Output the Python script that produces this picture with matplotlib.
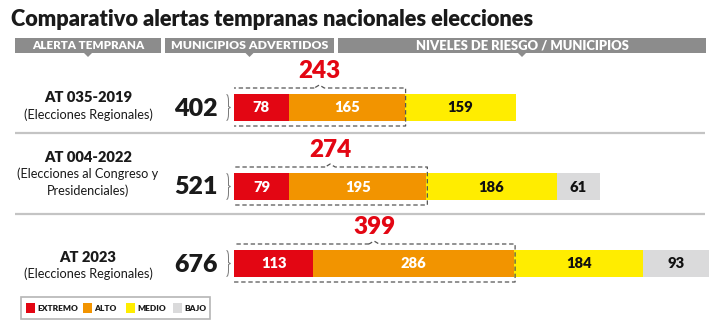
import matplotlib
matplotlib.use("Agg")
import matplotlib.pyplot as plt
from matplotlib.patches import Rectangle, Polygon, PathPatch
from matplotlib.path import Path
from matplotlib import font_manager as fm

plt.rcParams['font.family'] = ['Lato', 'DejaVu Sans']


def font_path(fname):
    for f in fm.fontManager.ttflist:
        if f.fname.split('/')[-1] == fname:
            return f.fname
    return None


_bold = font_path('Lato-Bold.ttf')
_xbold = font_path('Lato-ExtraBold.ttf') or font_path('Lato-Heavy.ttf') or _bold
_reg = font_path('Lato-Regular.ttf')


def FP(kind, size):
    p = {'bold': _bold, 'xbold': _xbold, 'reg': _reg}[kind]
    if p:
        return fm.FontProperties(fname=p, size=size)
    return fm.FontProperties(family='DejaVu Sans',
                             weight='normal' if kind == 'reg' else 'bold',
                             size=size)

# ---------------- data ----------------
alert_names = ["AT 035-2019", "AT 004-2022", "AT 2023"]
alert_subs = [["(Elecciones Regionales)"],
              ["(Elecciones al Congreso y", "Presidenciales)"],
              ["(Elecciones Regionales)"]]
totals = [402, 521, 676]
levels = ["EXTREMO", "ALTO", "MEDIO", "BAJO"]
extremo = [78, 79, 113]
alto = [165, 195, 286]
medio = [159, 186, 184]
bajo = [0, 61, 93]
level_colors = ["#e30613", "#f29400", "#ffed00", "#dadadb"]
label_colors = ["white", "white", "#111111", "#111111"]
headers = ["ALERTA TEMPRANA", "MUNICIPIOS ADVERTIDOS", "NIVELES DE RIESGO / MUNICIPIOS"]
title = "Comparativo alertas tempranas nacionales elecciones"

# layout (pixels)
W, H = 710, 324
row_y = [107.5, 186.5, 263.5]
bar_h = 27
bar_x0 = 234
px_per_unit = 0.702

fig = plt.figure(figsize=(W / 100, H / 100), dpi=100)
ov = fig.add_axes([0, 0, 1, 1])
ov.set_xlim(0, W)
ov.set_ylim(H, 0)
ov.axis("off")

bx = fig.add_axes([bar_x0 / W, 0, 1 - bar_x0 / W, 1])
bx.set_xlim(0, (W - bar_x0) / px_per_unit)
bx.set_ylim(H, 0)
bx.axis("off")

# title
ov.text(11, 20, title, fontproperties=FP('xbold', 15.7), color="#1a1a1a",
        ha="left", va="center")

# header bands
hdr_spans = [(15, 161), (165, 334), (338, 706)]
hdr_size = [8.4, 8.8, 9.4]
hcol = "#8c8c8c"
for (x0, x1), h, fs in zip(hdr_spans, headers, hdr_size):
    ov.add_patch(Rectangle((x0, 38), x1 - x0, 15, color=hcol, lw=0))
    cx = (x0 + x1) / 2
    ov.add_patch(Polygon([[cx - 4, 53], [cx + 4, 53], [cx, 57]], closed=True,
                         color=hcol, lw=0))
    ov.text(cx, 45.8, h, fontproperties=FP('xbold', fs), color="white",
            ha="center", va="center")

# separators
for y in [133, 214]:
    ov.plot([15, 705], [y, y], color="#c4c4c4", lw=1.6, solid_capstyle="butt")

# row labels and totals
name_y = [98, 157, 257]
for i in range(3):
    ov.text(88, name_y[i], alert_names[i], fontproperties=FP('xbold', 10.6),
            color="#1a1a1a", ha="center", va="center")
    for j, s in enumerate(alert_subs[i]):
        ov.text(88, name_y[i] + 17 + 17 * j, s, fontproperties=FP('reg', 9.2),
                color="#1a1a1a", ha="center", va="center")
    ov.text(218, row_y[i] + 1, str(totals[i]), fontproperties=FP('xbold', 18),
            color="#1a1a1a", ha="right", va="center")
    # brace
    yc = row_y[i]
    verts = [(226.5, yc - 13), (228.5, yc - 13), (228.5, yc - 6), (228.5, yc - 1),
             (230.5, yc), (228.5, yc + 1), (228.5, yc + 6), (228.5, yc + 13),
             (226.5, yc + 13)]
    codes = [Path.MOVETO, Path.CURVE3, Path.CURVE3, Path.LINETO,
             Path.LINETO, Path.LINETO, Path.LINETO, Path.CURVE3, Path.CURVE3]
    ov.add_patch(PathPatch(Path(verts, codes), fill=False, ec="#777777", lw=0.7))

# bars
series = [extremo, alto, medio, bajo]
for i in range(3):
    left = 0
    for k, vals in enumerate(series):
        v = vals[i]
        if v <= 0:
            continue
        bx.barh(row_y[i], v, left=left, height=bar_h, color=level_colors[k],
                lw=0)
        bx.text(left + v / 2, row_y[i] + 0.5, str(v), fontproperties=FP('xbold', 10.6),
                color=label_colors[k], ha="center", va="center")
        left += v

    # dashed box around extremo + alto
    hi = extremo[i] + alto[i]
    pad = 2.5 / px_per_unit
    x0, x1 = -pad, hi + 1 / px_per_unit
    y0, y1 = row_y[i] - bar_h / 2 - 6, row_y[i] + bar_h / 2 + 5
    cx = hi / 2
    nw = 5 / px_per_unit
    box = [(cx - nw, y0), (x0, y0), (x0, y1), (x1, y1), (x1, y0),
           (cx + nw, y0), (cx, y0 - 3), (cx - nw, y0)]
    xs, ys = zip(*box)
    bx.plot(xs, ys, color="#555555", lw=0.9, ls=(0, (3.5, 2.2)))
    bx.text(cx, y0 - 17, str(hi), fontproperties=FP('xbold', 17.5),
            color="#e30613", ha="center", va="center")

# legend
ov.add_patch(Rectangle((20.5, 297), 189, 22, fill=False, ec="#b5b5b5", lw=1.2))
leg_x = [26, 83, 126, 173]
for k in range(4):
    ov.add_patch(Rectangle((leg_x[k], 303), 9, 10, color=level_colors[k], lw=0))
    ov.text(leg_x[k] + 11, 308.5, levels[k], fontproperties=FP('xbold', 6.0),
            color="#1a1a1a", ha="left", va="center")

fig.savefig("out.png", dpi=100)
